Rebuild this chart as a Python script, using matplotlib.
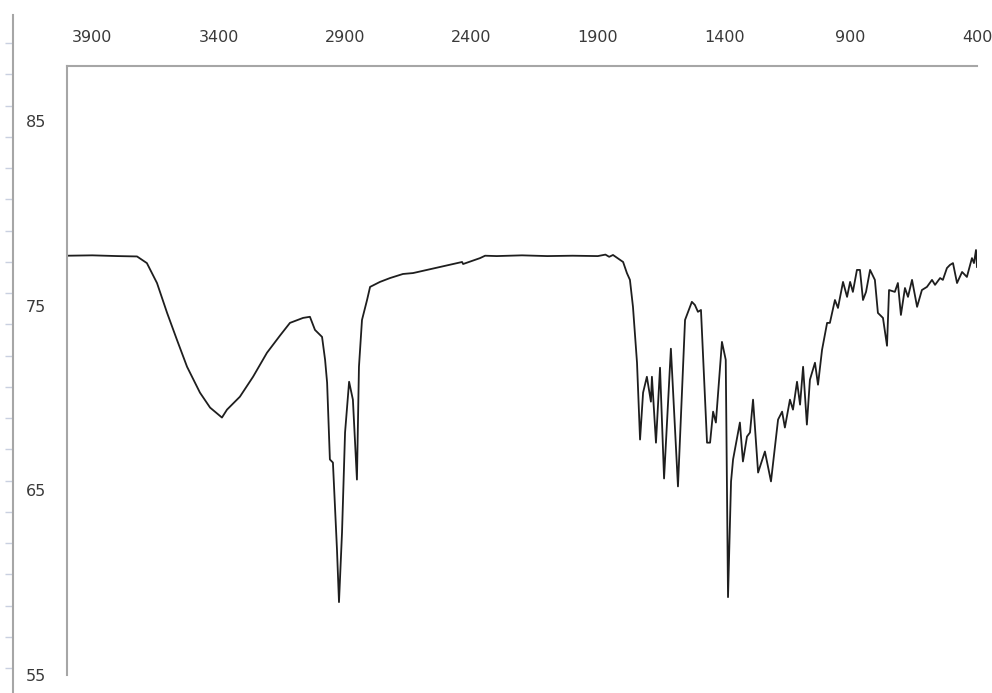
import numpy as np
import matplotlib.pyplot as plt

plt.rcParams['font.family'] = 'DejaVu Sans'

# IR spectrum (wavenumber in cm-1, transmittance in %)
wavenumber = [4000, 3900, 3800, 3723, 3684, 3644, 3604, 3565, 3525, 3474, 3434, 3387, 3367,
              3316, 3264, 3209, 3157, 3118, 3066, 3039, 3019, 2991, 2979, 2971, 2960,
              2948, 2932, 2924, 2912, 2900, 2884, 2869, 2853, 2845, 2833, 2813, 2801, 2762,
              2722, 2671, 2631, 2524, 2437, 2433, 2366, 2346, 2300, 2200, 2100, 2000, 1900,
              1870, 1855, 1840, 1812, 1800, 1785, 1773, 1761, 1745, 1733, 1721, 1706, 1690,
              1686, 1670, 1654, 1638, 1611, 1583, 1555, 1528, 1516, 1504, 1492, 1468, 1456,
              1444, 1433, 1409, 1394, 1385, 1373, 1365, 1338, 1326, 1310, 1298, 1286, 1266,
              1239, 1215, 1187, 1171, 1160, 1140, 1128, 1112, 1100, 1088, 1073, 1061, 1041,
              1029, 1013, 993, 982, 962, 950, 930, 914, 902, 891, 875, 863, 851, 839, 823,
              804, 792, 772, 756, 748, 725, 713, 701, 685, 673, 657, 637, 618, 598, 578, 566,
              546, 535, 519, 507, 495, 479, 459, 440, 420, 412, 404, 400]
transmittance = [77.72, 77.74, 77.70, 77.68, 77.32, 76.24, 74.62, 73.16, 71.70, 70.30, 69.49,
                 68.95, 69.38, 70.08, 71.16, 72.46, 73.40, 74.08, 74.35, 74.41, 73.70, 73.32,
                 72.08, 70.84, 66.68, 66.51, 61.81, 58.95, 62.73, 68.14, 70.89, 69.92,
                 65.59, 71.70, 74.24, 75.32, 76.03, 76.30, 76.51, 76.73, 76.78, 77.11, 77.38,
                 77.27, 77.59, 77.72, 77.70, 77.74, 77.70, 77.72, 77.70, 77.78, 77.66, 77.76,
                 77.49, 77.38, 76.78, 76.41, 74.95, 71.92, 67.76, 70.30, 71.16, 69.81, 71.16,
                 67.59, 71.65, 65.65, 72.68, 65.22, 74.24, 75.22, 75.05, 74.68, 74.78, 67.59,
                 67.59, 69.27, 68.68, 73.05, 72.08, 59.22, 65.49, 66.68, 68.68, 66.57, 67.92,
                 68.14, 69.92, 65.97, 67.11, 65.49, 68.84, 69.27, 68.41, 69.92, 69.38, 70.89,
                 69.65, 71.70, 68.57, 71.00, 71.92, 70.73, 72.62, 74.08, 74.08, 75.32, 74.89,
                 76.30, 75.49, 76.30, 75.76, 76.95, 76.95, 75.32, 75.76, 76.95, 76.41, 74.62,
                 74.35, 72.84, 75.86, 75.76, 76.24, 74.51, 75.97, 75.49, 76.41, 74.95, 75.86,
                 76.03, 76.41, 76.14, 76.51, 76.41, 77.05, 77.22, 77.32, 76.24, 76.84, 76.57,
                 77.59, 77.32, 78.03, 77.11]

x_ticks = [3900, 3400, 2900, 2400, 1900, 1400, 900, 400]
y_ticks = [55, 65, 75, 85]

kW, kH = 992, 693
kFrame = '#a6a6a6'
kText = '#3a3a3a'

fig = plt.figure(figsize=(kW / 100, kH / 100), dpi=100)

# main plot area
ax = fig.add_axes([67 / kW, 1 - 675 / kH, (977 - 67) / kW, (675 - 66) / kH])
ax.plot(wavenumber, transmittance, color='#1e1e1e', lw=1.3)
ax.set_xlim(4000, 400)
ax.set_ylim(55, 88)

for s in ['right', 'bottom']:
  ax.spines[s].set_visible(False)
for s in ['top', 'left']:
  ax.spines[s].set_color(kFrame)
  ax.spines[s].set_linewidth(1.5)

ax.xaxis.tick_top()
ax.set_xticks(x_ticks)
ax.set_xticklabels([str(v) for v in x_ticks])
ax.set_yticks(y_ticks)
ax.set_yticklabels([str(v) for v in y_ticks])
ax.tick_params(axis='x', length=0, pad=15, labelsize=11.5, labelcolor=kText)
ax.tick_params(axis='y', length=0, pad=15, labelsize=11.5, labelcolor=kText)

# the extra axis line with minor ticks on the far left
side = fig.add_axes([13 / kW, 0, 0.001, (kH - 15) / kH])
side.set_ylim(0, kH - 15)
side.set_xticks([])
side.set_yticks(np.linspace(25, 650, 21))
side.set_yticklabels([])
side.tick_params(axis='y', direction='out', length=6, width=1, color='#c9d0e0')
for s in ['right', 'bottom', 'top']:
  side.spines[s].set_visible(False)
side.spines['left'].set_color(kFrame)
side.spines['left'].set_linewidth(1.5)
side.patch.set_visible(False)

plt.savefig('out.png', dpi=100)
